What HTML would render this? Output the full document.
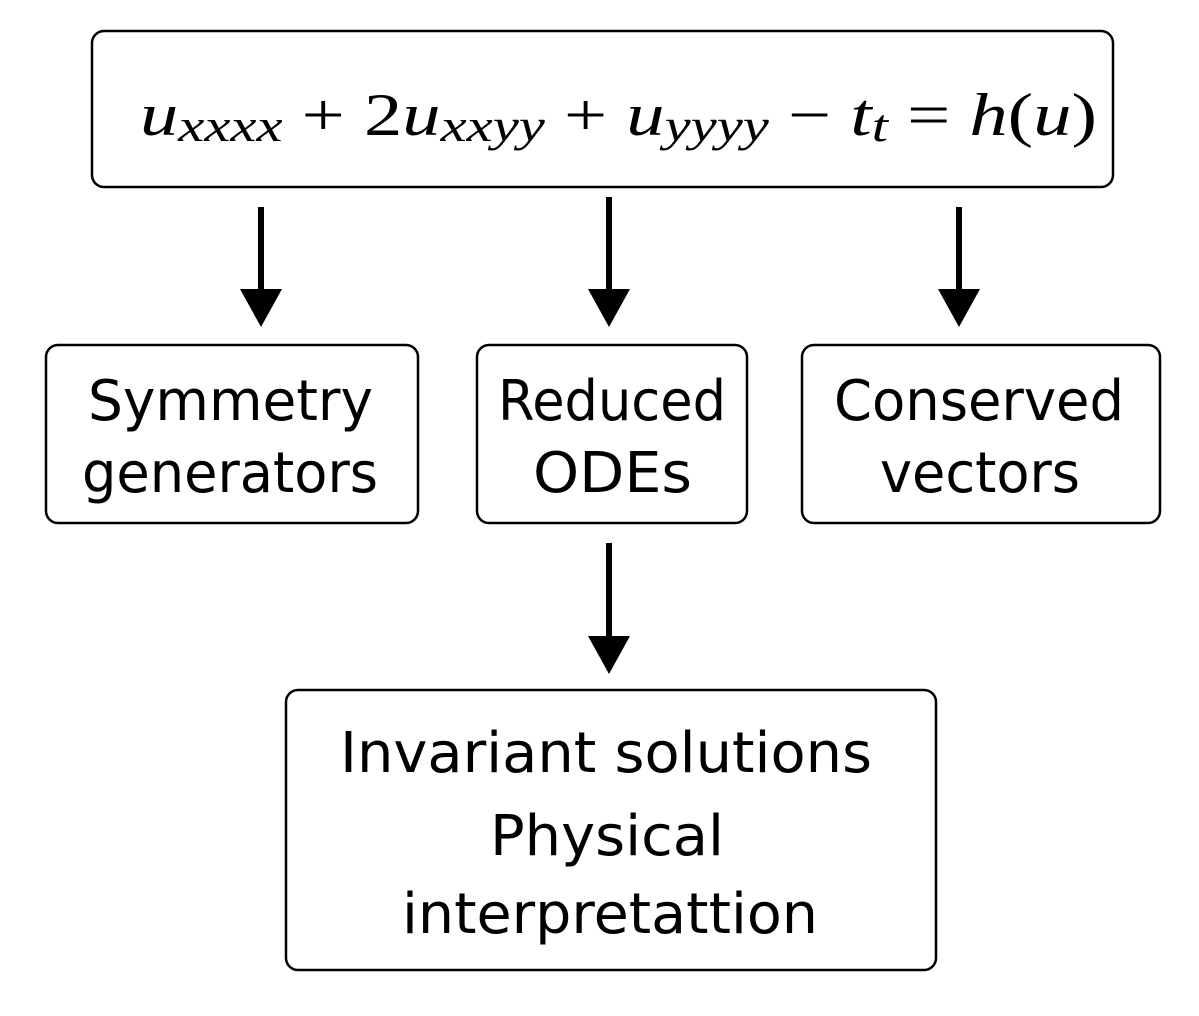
<!DOCTYPE html>
<html><head><style>
body{margin:0;background:#fff;}
</style></head><body>
<svg width="1199" height="1011" viewBox="0 0 1199 1011" xmlns="http://www.w3.org/2000/svg">
<g fill="none" stroke="#000" stroke-width="2.5">
<rect x="92" y="31" width="1021" height="156" rx="12"/>
<rect x="46" y="345" width="372" height="178" rx="12"/>
<rect x="477" y="345" width="270" height="178" rx="12"/>
<rect x="802" y="345" width="358" height="178" rx="12"/>
<rect x="286" y="690" width="650" height="280" rx="12"/>
</g>
<g stroke="#000" stroke-width="6">
<line x1="261" y1="207" x2="261" y2="300"/>
<line x1="609" y1="197" x2="609" y2="300"/>
<line x1="959" y1="207" x2="959" y2="300"/>
<line x1="609" y1="543" x2="609" y2="647"/>
</g>
<g fill="#000">
<polygon points="240,289 282,289 261,327"/>
<polygon points="588,289 630,289 609,327"/>
<polygon points="938,289 980,289 959,327"/>
<polygon points="588,636 630,636 609,674"/>
</g>
<text x="140" y="135" style="font-family:'Liberation Serif',serif" font-size="60" textLength="957" lengthAdjust="spacingAndGlyphs"><tspan font-style="italic">u</tspan><tspan font-style="italic" font-size="46" dy="6">xxxx</tspan><tspan dy="-6"> + 2</tspan><tspan font-style="italic">u</tspan><tspan font-style="italic" font-size="46" dy="6">xxyy</tspan><tspan dy="-6"> + </tspan><tspan font-style="italic">u</tspan><tspan font-style="italic" font-size="46" dy="6">yyyy</tspan><tspan dy="-6"> − </tspan><tspan font-style="italic">t</tspan><tspan font-style="italic" font-size="46" dy="6">t</tspan><tspan dy="-6"> = </tspan><tspan font-style="italic">h</tspan><tspan>(</tspan><tspan font-style="italic">u</tspan><tspan>)</tspan></text>
<g style="font-family:'DejaVu Sans','Liberation Sans',sans-serif" font-size="56" fill="#000" lengthAdjust="spacingAndGlyphs">
<text x="88" y="420" textLength="285" lengthAdjust="spacingAndGlyphs">Symmetry</text>
<text x="82" y="492" textLength="296" lengthAdjust="spacingAndGlyphs">generators</text>
<text x="498" y="420" textLength="228" lengthAdjust="spacingAndGlyphs">Reduced</text>
<text x="533" y="492" textLength="159" lengthAdjust="spacingAndGlyphs">ODEs</text>
<text x="834" y="420" textLength="290" lengthAdjust="spacingAndGlyphs">Conserved</text>
<text x="880" y="492" textLength="200" lengthAdjust="spacingAndGlyphs">vectors</text>
<text x="340" y="772" textLength="532" lengthAdjust="spacingAndGlyphs">Invariant solutions</text>
<text x="490" y="855" textLength="234" lengthAdjust="spacingAndGlyphs">Physical</text>
<text x="402" y="933" textLength="416" lengthAdjust="spacingAndGlyphs">interpretattion</text>
</g>
</svg>
</body></html>
